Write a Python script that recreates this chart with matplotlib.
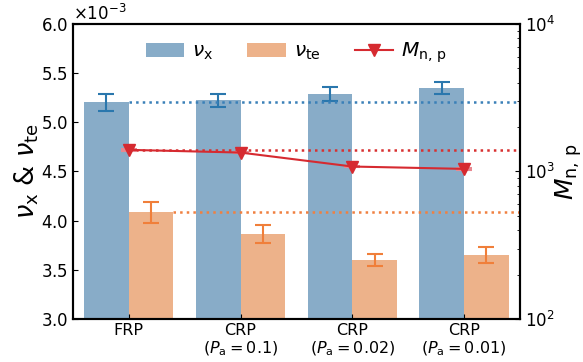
import numpy as np
import matplotlib.pyplot as plt

#--- data
labels = ['FRP', 'CRP\n($P_\\mathrm{a} = 0.1$)', 'CRP\n($P_\\mathrm{a} = 0.02$)', 'CRP\n($P_\\mathrm{a} = 0.01$)']
nu_x = [5.203e-3, 5.225e-3, 5.288e-3, 5.350e-3]
nu_x_err = [0.085e-3, 0.065e-3, 0.075e-3, 0.063e-3]
nu_te = [4.085e-3, 3.864e-3, 3.599e-3, 3.650e-3]
nu_te_err = [0.105e-3, 0.090e-3, 0.065e-3, 0.080e-3]
m_np = [1400, 1342, 1079, 1040]
m_np_err = [15, 15, 12, 12]

x = np.arange(len(labels))
width = 0.4

fig = plt.figure(figsize=(5.83, 3.62), dpi=100)
ax = fig.add_axes([0.125, 0.119, 0.767, 0.815])

b1 = ax.bar(x - width / 2, nu_x, width, color='#88acc8')
ax.errorbar(x - width / 2, nu_x, yerr=nu_x_err, fmt='none', ecolor='#2a77ad', capsize=6, elinewidth=1.5, capthick=1.5)
b2 = ax.bar(x + width / 2, nu_te, width, color='#edb28a')
ax.errorbar(x + width / 2, nu_te, yerr=nu_te_err, fmt='none', ecolor='#f07f3a', capsize=6, elinewidth=1.5, capthick=1.5)

#--- reference lines (FRP values)
ax.plot([x[0], 3.5], [nu_x[0], nu_x[0]], ls=':', lw=1.8, color='#3a80b8')
ax.plot([x[0] + width, 3.5], [nu_te[0], nu_te[0]], ls=':', lw=1.8, color='#f08040')

ax.set_xlim(-0.5, 3.5)
ax.set_ylim(3.0e-3, 6.0e-3)
ax.set_xticks(x)
ax.set_xticklabels(labels, fontsize=11.5, linespacing=1.1)
ax.tick_params(axis='y', direction='in', labelsize=12)
ax.tick_params(axis='x', direction='in', pad=3)
ax.ticklabel_format(axis='y', style='sci', scilimits=(-3, -3), useMathText=True)
ax.yaxis.get_offset_text().set_fontsize(12)
ax.set_ylabel(r'$\nu_\mathrm{x}$ & $\nu_\mathrm{te}$', fontsize=18.5, labelpad=0)

ax2 = ax.twinx()
ax2.set_yscale('log')
ax2.set_ylim(1e2, 1e4)
ax2.plot([x[0], 3.5], [m_np[0], m_np[0]], ls=':', lw=1.8, color='#d83030')
ax2.errorbar(x, m_np, yerr=m_np_err, fmt='none', ecolor='#e88890', capsize=6, elinewidth=1.2, capthick=1.5)
l1, = ax2.plot(x, m_np, color='#d62a30', marker='v', markersize=8.5, lw=1.5)
ax2.tick_params(axis='y', which='both', direction='in', labelsize=12)
ax2.set_ylabel(r'$M_\mathrm{n,\,p}$', fontsize=18, labelpad=-1.5)

for a in (ax, ax2):
    for s in a.spines.values():
        s.set_linewidth(1.5)

ax.legend([b1, b2, l1], [r'$\nu_\mathrm{x}$', r'$\nu_\mathrm{te}$', r'$M_\mathrm{n,\,p}$'],
          loc='upper center', ncol=3, frameon=False, fontsize=14.5, bbox_to_anchor=(0.5, 1.005),
          columnspacing=1.7, handlelength=1.9, handletextpad=0.4)

plt.savefig('out.png', dpi=100)
